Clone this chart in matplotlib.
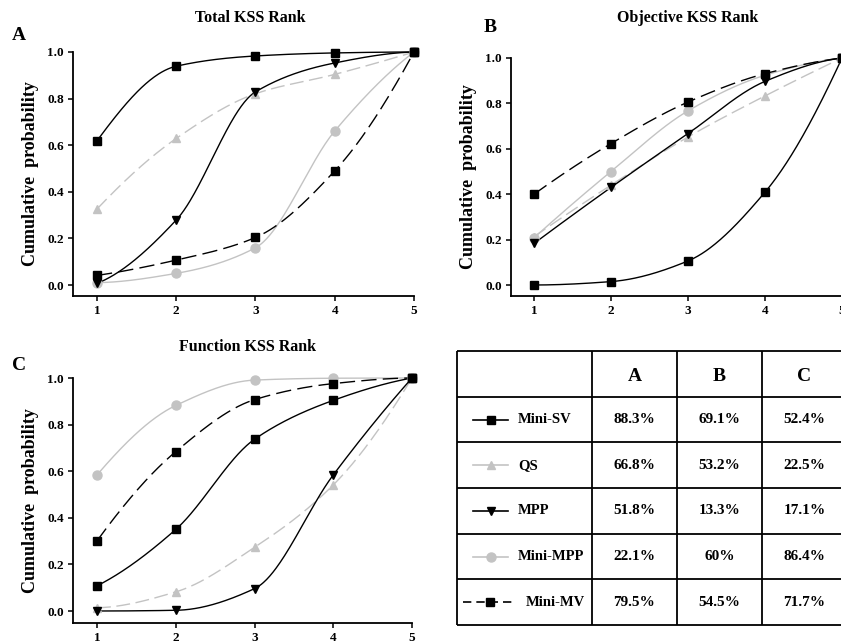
import numpy as np
import matplotlib
matplotlib.use("Agg")
import matplotlib.pyplot as plt

plt.rcParams['font.family'] = ['Liberation Serif', 'DejaVu Serif']
plt.rcParams['font.weight'] = 'bold'

ranks = [1, 2, 3, 4, 5]
series_names = ["Mini-SV", "QS", "MPP", "Mini-MPP", "Mini-MV"]

# Panel A: Total KSS Rank
A_mini_sv = [0.619, 0.939, 0.983, 0.996, 1.0]
A_qs = [0.326, 0.629, 0.821, 0.904, 1.0]
A_mpp = [0.007, 0.279, 0.829, 0.953, 1.0]
A_mini_mpp = [0.010, 0.050, 0.160, 0.661, 1.0]
A_mini_mv = [0.041, 0.107, 0.204, 0.490, 1.0]

# Panel B: Objective KSS Rank
B_mini_sv = [0.0, 0.015, 0.106, 0.409, 1.0]
B_qs = [0.213, 0.440, 0.652, 0.833, 1.0]
B_mpp = [0.183, 0.430, 0.667, 0.897, 1.0]
B_mini_mpp = [0.208, 0.500, 0.767, 0.924, 1.0]
B_mini_mv = [0.400, 0.623, 0.806, 0.931, 1.0]

# Panel C: Function KSS Rank
C_mini_sv = [0.108, 0.350, 0.737, 0.904, 1.0]
C_qs = [0.014, 0.082, 0.273, 0.541, 1.0]
C_mpp = [0.0, 0.003, 0.096, 0.584, 1.0]
C_mini_mpp = [0.584, 0.882, 0.991, 0.999, 1.0]
C_mini_mv = [0.301, 0.684, 0.907, 0.976, 1.0]

table_cols = ["A", "B", "C"]
table_vals = [
    ["88.3%", "69.1%", "52.4%"],
    ["66.8%", "53.2%", "22.5%"],
    ["51.8%", "13.3%", "17.1%"],
    ["22.1%", "60%", "86.4%"],
    ["79.5%", "54.5%", "71.7%"],
]

GREY = "#c3c3c3"
styles = {
    "Mini-SV": dict(color="black", marker="s", ls="-", mfc="black", ms=5.8),
    "QS": dict(color=GREY, marker="^", ls=(0, (10, 4)), mfc=GREY, ms=6),
    "MPP": dict(color="black", marker="v", ls="-", mfc="black", ms=6),
    "Mini-MPP": dict(color=GREY, marker="o", ls="-", mfc=GREY, ms=6.5),
    "Mini-MV": dict(color="black", marker="s", ls=(0, (11, 4.5)), mfc="black", ms=5.8),
}


def pchip(x, y, xs):
    x = np.asarray(x, float); y = np.asarray(y, float)
    n = len(x)
    h = np.diff(x); d = np.diff(y) / h
    m = np.zeros(n)
    for k in range(1, n - 1):
        if d[k - 1] * d[k] <= 0:
            m[k] = 0.0
        else:
            w1 = 2 * h[k] + h[k - 1]; w2 = h[k] + 2 * h[k - 1]
            m[k] = (w1 + w2) / (w1 / d[k - 1] + w2 / d[k])
    def endslope(h0, h1, d0, d1):
        s = ((2 * h0 + h1) * d0 - h0 * d1) / (h0 + h1)
        if np.sign(s) != np.sign(d0):
            s = 0.0
        elif np.sign(d0) != np.sign(d1) and abs(s) > abs(3 * d0):
            s = 3 * d0
        return s
    m[0] = endslope(h[0], h[1], d[0], d[1])
    m[-1] = endslope(h[-1], h[-2], d[-1], d[-2])
    ys = np.empty_like(xs)
    for i, xv in enumerate(xs):
        k = min(np.searchsorted(x, xv) - 1, n - 2)
        k = max(k, 0)
        t = (xv - x[k]) / h[k]
        h00 = 2 * t**3 - 3 * t**2 + 1; h10 = t**3 - 2 * t**2 + t
        h01 = -2 * t**3 + 3 * t**2; h11 = t**3 - t**2
        ys[i] = h00 * y[k] + h10 * h[k] * m[k] + h01 * y[k + 1] + h11 * h[k] * m[k + 1]
    return ys


W, H = 841, 643
fig = plt.figure(figsize=(W / 100, H / 100), dpi=100)


def px_axes(left, top, right, bottom):
    return fig.add_axes([left / W, 1 - bottom / H, (right - left) / W, (bottom - top) / H])


def draw_panel(ax, data, xlim, ylim, title, letter, letter_xy, title_xy):
    xs = np.linspace(1, 5, 300)
    order = ["Mini-MPP", "QS", "Mini-MV", "MPP", "Mini-SV"]
    for name in order:
        st = styles[name]
        yv = data[name]
        ax.plot(xs, pchip(ranks, yv, xs), color=st["color"], ls=st["ls"], lw=1.0,
                clip_on=False, zorder=2)
        ax.plot(ranks, yv, ls="none", marker=st["marker"], ms=st["ms"],
                mfc=st["mfc"], mec=st["color"], clip_on=False, zorder=3)
    ax.set_xlim(*xlim)
    ax.set_ylim(*ylim)
    ax.set_xticks(ranks)
    ax.set_yticks([0, 0.2, 0.4, 0.6, 0.8, 1.0])
    ax.set_yticklabels(["0.0", "0.2", "0.4", "0.6", "0.8", "1.0"])
    for s in ["top", "right"]:
        ax.spines[s].set_visible(False)
    for s in ["left", "bottom"]:
        ax.spines[s].set_linewidth(1.3)
    ax.spines["left"].set_bounds(ylim[0], 1.0)
    ax.tick_params(direction="out", length=3.5, width=1.1, labelsize=9.5, pad=3)
    for lab in ax.get_xticklabels() + ax.get_yticklabels():
        lab.set_fontweight("bold")
    ax.set_ylabel("Cumulative  probability", fontsize=13, fontweight="bold", labelpad=6)
    fig.text(title_xy[0] / W, 1 - title_xy[1] / H, title, ha="center", va="center",
             fontsize=11.5, fontweight="bold")
    fig.text(letter_xy[0] / W, 1 - letter_xy[1] / H, letter, ha="left", va="center",
             fontsize=14, fontweight="bold")


dA = dict(zip(series_names, [A_mini_sv, A_qs, A_mpp, A_mini_mpp, A_mini_mv]))
dB = dict(zip(series_names, [B_mini_sv, B_qs, B_mpp, B_mini_mpp, B_mini_mv]))
dC = dict(zip(series_names, [C_mini_sv, C_qs, C_mpp, C_mini_mpp, C_mini_mv]))

axA = px_axes(73, 52, 414, 296)
draw_panel(axA, dA, (1 - 24 / 79.25, 5), (-11 / 233, 1.0), "Total KSS Rank", "A", (12, 35), (250, 18))

axB = px_axes(511, 58, 842, 296)
draw_panel(axB, dB, (1 - 23 / 77, 5), (-11 / 227, 1.0), "Objective KSS Rank", "B", (484, 28), (688, 18))

axC = px_axes(73, 378, 412, 623)
draw_panel(axC, dC, (1 - 24 / 78.75, 5), (-12 / 233, 1.0), "Function KSS Rank", "C", (12, 366), (248, 347))

# ---- Table ----
col_w = [1.588, 1.0, 1.0, 1.0]
edges = np.concatenate([[0], np.cumsum(col_w)])
nrows = 6
axT = px_axes(457, 351, 457 + 85 * sum(col_w), 625)
axT.set_xlim(0, edges[-1])
axT.set_ylim(nrows, 0)
axT.axis("off")
for e in edges:
    axT.plot([e, e], [0, nrows], color="black", lw=1.3, clip_on=False, solid_capstyle="butt")
for r in range(nrows + 1):
    axT.plot([0, edges[-1]], [r, r], color="black", lw=1.3, clip_on=False, solid_capstyle="butt")

for j, c in enumerate(table_cols):
    axT.text((edges[j + 1] + edges[j + 2]) / 2, 0.55, c, ha="center", va="center",
             fontsize=14, fontweight="bold")
for i, row in enumerate(table_vals):
    for j, v in enumerate(row):
        axT.text((edges[j + 1] + edges[j + 2]) / 2, i + 1.5, v, ha="center", va="center",
                 fontsize=11, fontweight="bold")
    name = series_names[i]
    st = styles[name]
    if name == "Mini-MV":
        x0, x1, tx = 6 / 85, 58 / 85, 69 / 85
        ls = (0, (5, 3))
    else:
        x0, x1, tx = 16 / 85, 51 / 85, 61 / 85
        ls = "-"
    axT.plot([x0, x1], [i + 1.5, i + 1.5], color=st["color"], ls=ls, lw=1.2)
    axT.plot([(x0 + x1) / 2 if name != "Mini-MV" else 33 / 85], [i + 1.5], ls="none",
             marker=st["marker"], ms=st["ms"], mfc=st["mfc"], mec=st["color"])
    axT.text(tx, i + 1.5, name, ha="left", va="center", fontsize=10.5, fontweight="bold")

fig.savefig("out.png", dpi=100)
